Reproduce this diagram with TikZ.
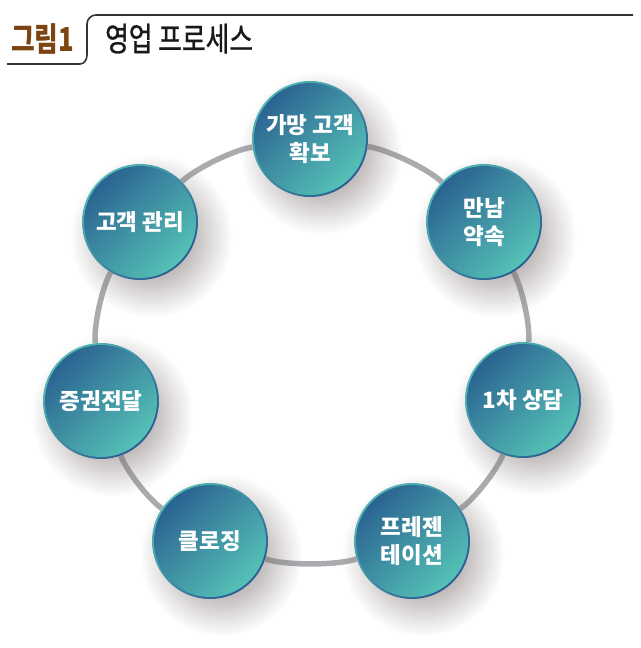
\documentclass[tikz,border=0pt]{standalone}
\usepackage{fontspec}
\setmainfont{Noto Sans CJK KR}
\newfontfamily\titlefont[FakeStretch=0.78]{Noto Sans CJK KR}
\newfontfamily\titlemedfont[FakeStretch=0.78,FakeBold=0.9]{Noto Sans CJK KR}
\usepackage{xcolor}
\usetikzlibrary{shadows,fadings,backgrounds}

\definecolor{stepblue}{HTML}{2A6291}
\definecolor{stepteal}{HTML}{56C3B7}
\definecolor{rimlight}{HTML}{52B9B4}
\definecolor{rimdark}{HTML}{2A5C93}
\definecolor{ringgray}{HTML}{A9ABAE}
\definecolor{shadowgray}{HTML}{776A6A}
\definecolor{titlebrown}{HTML}{7B4410}

\tikzfading[name=softshadow,inner color=transparent!0,outer color=transparent!100]

\begin{document}
\begin{tikzpicture}[
		x=1pt,y=-1pt,
		stepnode/.style={
			circle,
			minimum size=116pt,
			inner sep=0pt,
			align=center,
			text=white,
			font=\bfseries\fontsize{22.5}{28}\selectfont,
			top color=rimlight,
			bottom color=rimdark,
			shading angle=45,
			general shadow={shadow xshift=8pt,shadow yshift=-10pt,
				shadow scale=1.4,opacity=0.9,fill=shadowgray,
				path fading=softshadow},
			path picture={
				\shade[top color=stepblue,bottom color=stepteal,shading angle=45]
				(path picture bounding box.center) circle (56pt);
			}
		},
		ring/.style={draw=ringgray,line width=5.5pt},
		arc/.style={bend left=18,looseness=0.6},
		tabline/.style={draw=black!80,line width=1.6pt}
		]
		
		\useasboundingbox (0,0) rectangle (640,648);
		
		% title
		\node[anchor=base west,inner sep=0pt,text=titlebrown,
		font=\titlefont\bfseries\fontsize{33}{33}\selectfont]
		(fig) at (11,51)
		{그림1};
		
		\node[anchor=base west,inner sep=0pt,text=black!90,
		font=\titlemedfont\fontsize{33}{33}\selectfont]
		(title) at (105,51)
		{영업 프로세스};
		
		\draw[tabline] (7,64) -- (80,64) to[out=0,in=-90] (87,55)
		-- (87,24) to[out=90,in=180] (96,15) -- (633,15);
		
		% steps
		\node[stepnode]
		(a) at (310,139)
		{가망 고객\\확보};
		
		\node[stepnode]
		(b) at (484,222)
		{만남\\약속};
		
		\node[stepnode]
		(c) at (523,400)
		{1차 상담};
		
		\node[stepnode]
		(d) at (412,541)
		{프레젠\\테이션};
		
		\node[stepnode]
		(e) at (210,541)
		{클로징};
		
		\node[stepnode]
		(f) at (101,401)
		{증권전달};
		
		\node[stepnode]
		(g) at (140,222)
		{고객 관리};
		
		\begin{scope}[on background layer]
			\draw[ring] (a) to[arc] (b);
			\draw[ring] (b) to[arc] (c);
			\draw[ring] (c) to[arc] (d);
			\draw[ring] (d) to[arc] (e);
			\draw[ring] (e) to[arc] (f);
			\draw[ring] (f) to[arc] (g);
			\draw[ring] (g) to[arc] (a);
		\end{scope}
		
	\end{tikzpicture}
\end{document}
